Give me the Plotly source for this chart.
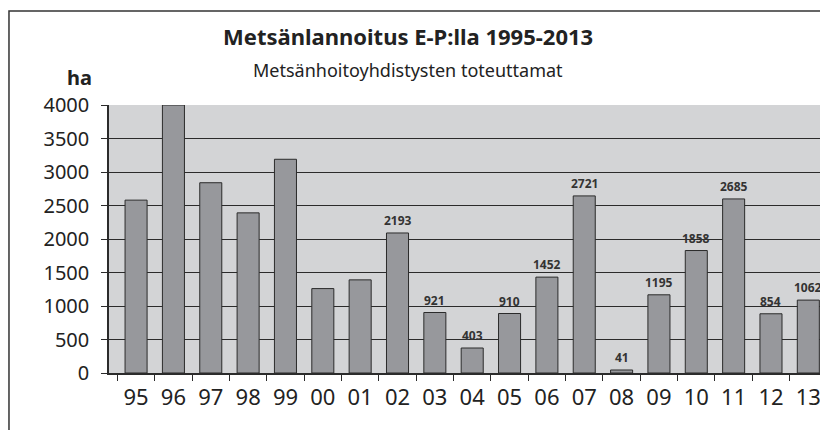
import plotly.graph_objects as go

years = ["95", "96", "97", "98", "99", "00", "01", "02", "03", "04",
         "05", "06", "07", "08", "09", "10", "11", "12", "13"]
# bar heights as drawn in the picture (ha)
bar_values = [2580, 4000, 2840, 2390, 3190, 1260, 1390, 2090, 903, 373,
              888, 1431, 2643, 45, 1167, 1828, 2598, 884, 1088]
# value labels printed above the bars
value_labels = ["", "", "", "", "", "", "", "2193", "921", "403",
                "910", "1452", "2721", "41", "1195", "1858", "2685", "854", "1062"]
y_ticks = [0, 500, 1000, 1500, 2000, 2500, 3000, 3500, 4000]

title_text = "<b>Metsänlannoitus E-P:lla 1995-2013</b>"
subtitle_text = "Metsänhoitoyhdistysten toteuttamat"
unit_text = "<b>ha</b>"

FONT = "Noto Sans"
DARK = "#2b2b2b"

fig = go.Figure()
fig.add_trace(go.Bar(
    x=years, y=bar_values,
    marker=dict(color="#97989c", line=dict(color=DARK, width=1)),
    width=0.59,
    hoverinfo="x+y",
))

annotations = []
for i, (v, lab) in enumerate(zip(bar_values, value_labels)):
    if lab:
        annotations.append(dict(
            x=i, y=v, xref="x", yref="y", text="<b>" + lab + "</b>",
            showarrow=False, yanchor="bottom", yshift=2,
            font=dict(family=FONT, size=12, color="#333333"),
        ))

annotations += [
    dict(x=0.4164, y=1.257, xref="paper", yref="paper", text=title_text,
         showarrow=False, xanchor="center", yanchor="middle",
         font=dict(family=FONT, size=22, color="#222222")),
    dict(x=0.417, y=1.131, xref="paper", yref="paper", text=subtitle_text,
         showarrow=False, xanchor="center", yanchor="middle",
         font=dict(family=FONT, size=18, color="#222222")),
    dict(x=-0.0412, y=1.102, xref="paper", yref="paper", text=unit_text,
         showarrow=False, xanchor="center", yanchor="middle",
         font=dict(family=FONT, size=20, color="#222222")),
]

fig.update_layout(
    width=820, height=422, autosize=False,
    margin=dict(l=101, r=1, t=97, b=57),
    paper_bgcolor="white", plot_bgcolor="#d3d4d6",
    showlegend=False,
    annotations=annotations,
    shapes=[dict(type="rect", xref="paper", yref="paper",
                 x0=-0.1393, x1=2.0, y0=-1.0, y1=1.351,
                 line=dict(color="#333333", width=1.5), layer="below")],
)
fig.update_xaxes(
    type="category", range=[-0.725, 18.5],
    showline=True, linecolor=DARK, linewidth=1.5,
    ticks="outside", tickson="boundaries", ticklen=6, tickcolor=DARK,
    tickfont=dict(family=FONT, size=22, color="#222222"),
    ticklabelstandoff=4,
    showgrid=False,
)
fig.update_yaxes(
    range=[0, 4000], tickvals=y_ticks,
    showline=True, linecolor=DARK, linewidth=1.5,
    ticks="outside", ticklen=6, tickcolor=DARK,
    tickfont=dict(family=FONT, size=20, color="#222222"),
    ticklabelstandoff=8,
    showgrid=True, gridcolor=DARK, gridwidth=1.2,
    zeroline=False,
)

fig.write_html("out.html")
